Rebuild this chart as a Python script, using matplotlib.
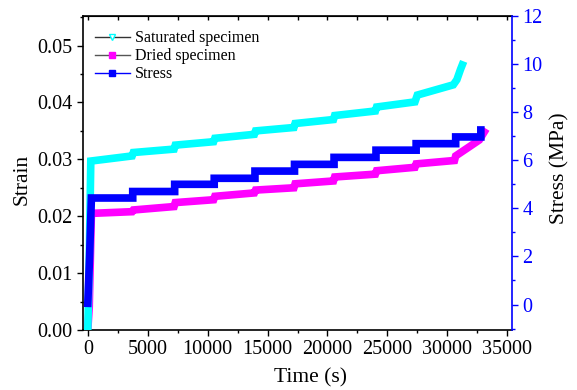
import matplotlib
matplotlib.use("Agg")
import matplotlib.pyplot as plt
from matplotlib.lines import Line2D
from matplotlib.ticker import MultipleLocator

plt.rcParams['font.family'] = ['Liberation Serif', 'DejaVu Serif']

# Saturated specimen strain
sat_t = [0, 120, 250, 3700, 3800, 7200, 7300, 10500, 10600, 13900, 14000, 17200, 17300,
         20500, 20600, 24000, 24100, 27300, 27500, 30500, 30800, 31100, 31250]
sat_v = [0.0, 0.012, 0.0297, 0.0306, 0.0312, 0.0318, 0.0325, 0.0331, 0.0337, 0.0344, 0.0350,
         0.0356, 0.0363, 0.0370, 0.0377, 0.0385, 0.0392, 0.0401, 0.0413, 0.0431, 0.0440, 0.0458, 0.0466]

# Dried specimen strain
dry_t = [0, 120, 300, 3700, 3800, 7200, 7300, 10500, 10600, 13900, 14000, 17200, 17300,
         20500, 20600, 24000, 24100, 27300, 27400, 30600, 30700, 31830, 32670, 33080]
dry_v = [0.0, 0.004, 0.0205, 0.0208, 0.0211, 0.0217, 0.0224, 0.0229, 0.0235, 0.0241, 0.0246,
         0.0250, 0.0257, 0.0262, 0.0269, 0.0274, 0.0280, 0.0286, 0.0292, 0.0298, 0.0306,
         0.0322, 0.0334, 0.0348]

# Stress (MPa)
str_t = [0, 150, 300, 3750, 3750, 7250, 7250, 10550, 10550, 13950, 13950, 17250, 17250,
         20550, 20550, 24050, 24050, 27400, 27400, 30700, 30700, 32800, 32800]
str_v = [0.05, 2.0, 4.43, 4.43, 4.70, 4.70, 5.00, 5.00, 5.25, 5.25, 5.55, 5.55, 5.83,
         5.83, 6.12, 6.12, 6.42, 6.42, 6.69, 6.69, 6.97, 6.97, 7.26]

fig = plt.figure(figsize=(5.77, 3.90), dpi=100)
ax = fig.add_axes([83/577, 1-330/390, (512-83)/577, (330-16)/390])
ax2 = ax.twinx()

ax.plot(sat_t, sat_v, color='#00ffff', lw=5.5, solid_joinstyle='miter', zorder=3)
ax.plot(dry_t, dry_v, color='#ff00ff', lw=5.5, solid_joinstyle='miter', zorder=2)
ax2.plot(str_t, str_v, color='#0000ff', lw=5.5, solid_joinstyle='miter', zorder=3)

ax.set_xlim(-400, 35400)
ax.set_ylim(0, 0.0552)
ax2.set_ylim(-1.06, 12)

ax.xaxis.set_major_locator(MultipleLocator(5000))
ax.xaxis.set_minor_locator(MultipleLocator(2500))
ax.yaxis.set_major_locator(MultipleLocator(0.01))
ax.yaxis.set_minor_locator(MultipleLocator(0.005))
ax.yaxis.set_major_formatter(matplotlib.ticker.FormatStrFormatter('%.2f'))
ax2.yaxis.set_major_locator(MultipleLocator(2))
ax2.yaxis.set_minor_locator(MultipleLocator(1))

ax.tick_params(axis='both', which='major', direction='out', length=4, width=1, labelsize=14.5)
ax.tick_params(axis='both', which='minor', direction='out', length=2.5, width=1)
ax2.tick_params(axis='y', which='major', direction='out', length=4, width=1,
                colors='#0000ff', labelsize=14.5)
ax2.tick_params(axis='y', which='minor', direction='out', length=2.5, width=1, colors='#0000ff')

top = ax.secondary_xaxis('top')
top.xaxis.set_major_locator(MultipleLocator(2500))
top.tick_params(axis='x', which='major', direction='in', length=3, width=1, labeltop=False)
top.tick_params(axis='x', which='minor', length=0)
top.set_xticklabels([])

ax.spines['right'].set_visible(False)
ax2.spines['left'].set_visible(False)
ax2.spines['top'].set_visible(False)
ax2.spines['bottom'].set_visible(False)
ax2.spines['right'].set_color('#0000ff')
ax2.spines['right'].set_linewidth(1.2)
for s in ['left', 'bottom']:
    ax.spines[s].set_linewidth(1.2)
top.spines['top'].set_linewidth(1.2)

ax.set_xlabel('Time (s)', fontsize=15.5)
ax.xaxis.set_label_coords((310-83)/(512-83), -(378-330)/(330-16), transform=ax.transAxes)
ax.set_ylabel('Strain', fontsize=15.5)
ax.yaxis.set_label_coords(-(83-22)/(512-83), (330-179)/(330-16), transform=ax.transAxes)
ax2.set_ylabel('Stress (MPa)', fontsize=15.5)
ax2.yaxis.set_label_coords((560-83)/(512-83), (330-168)/(330-16), transform=ax.transAxes)
ax.xaxis.label.set_verticalalignment('center')
ax.yaxis.label.set_verticalalignment('center')
ax2.yaxis.label.set_verticalalignment('center')

handles = [
    Line2D([], [], color='#333333', lw=1, marker='v', ms=5, mfc='white', mec='#00ffff'),
    Line2D([], [], color='#555555', lw=1, marker='s', ms=4, mfc='#ff00ff', mec='#ff00ff'),
    Line2D([], [], color='#0000ff', lw=1, marker='s', ms=4, mfc='#0000ff', mec='#0000ff'),
]
labels = ['Saturated specimen', 'Dried specimen', 'Stress']
ax2.legend(handles, labels, loc='upper left', bbox_to_anchor=(0.005, 0.985), frameon=False,
           fontsize=11.5, handlelength=2.2, handletextpad=0.3, labelspacing=0.12,
           borderaxespad=0.2)

fig.savefig('out.png', dpi=100)
